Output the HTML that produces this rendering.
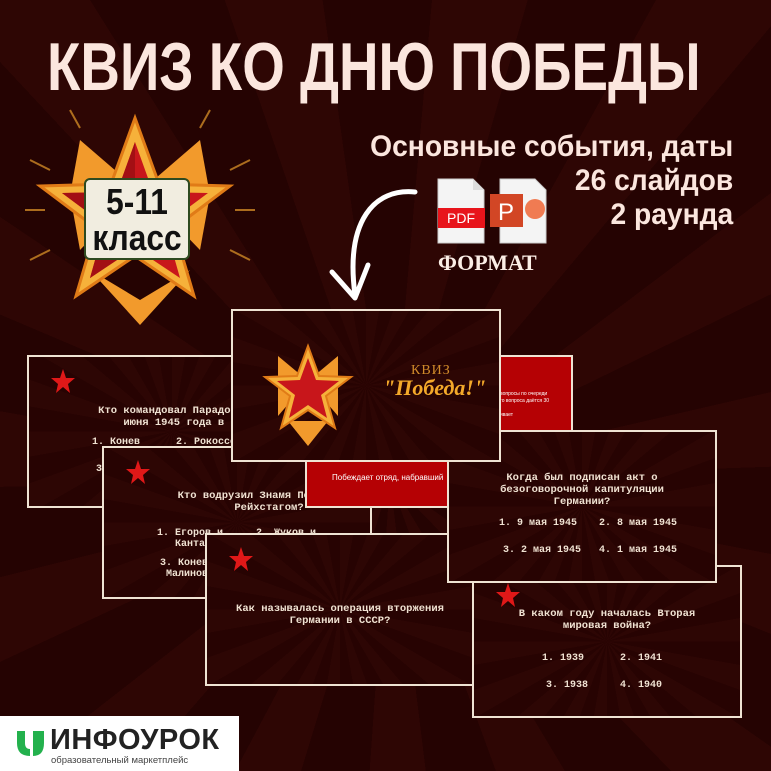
<!DOCTYPE html>
<html><head><meta charset="utf-8"><style>
*{margin:0;padding:0;box-sizing:border-box}
body{width:771px;height:771px;overflow:hidden;position:relative;background:#260302;font-family:"Liberation Sans",sans-serif}
.bg{position:absolute;inset:0;background:repeating-conic-gradient(from 5deg at 390px 480px,#2e0604 0deg 11deg,#250302 11deg 24deg)}
.t{position:absolute;font-family:"Liberation Sans Narrow","Liberation Sans",sans-serif;font-weight:bold;color:#fbe6de;white-space:nowrap}
.slide{position:absolute;width:270px;height:153px;background:repeating-conic-gradient(from 0deg at 50% 50%,#2d0604 0deg 10deg,#270302 10deg 20deg);border:2px solid #efe3d3;overflow:hidden}
.q{position:absolute;left:0;right:0;text-align:center;font-family:"Liberation Mono",monospace;font-weight:bold;font-size:10.5px;line-height:12px;color:#f0e2d2}
.a{position:absolute;font-family:"Liberation Mono",monospace;font-weight:bold;font-size:10px;color:#f0e2d2;white-space:nowrap}
.bd{position:absolute;width:28px;height:28px}
</style></head><body>
<div class="bg"></div>
<div class="t" style="left:47px;top:30px;font-size:68px;line-height:75px;transform-origin:left top;transform:scaleX(0.805)">КВИЗ КО ДНЮ ПОБЕДЫ</div>
<div class="t" style="right:38px;top:130px;font-size:30px;line-height:34px;text-align:right;transform-origin:right top;transform:scaleX(0.94)">Основные события, даты<br>26 слайдов<br>2 раунда</div>

<!-- big star -->
<svg style="position:absolute;left:20px;top:100px" width="240" height="230" viewBox="0 0 240 230">
<g stroke="#e59a2a" stroke-width="2" opacity=".7">
<line x1="10" y1="60" x2="30" y2="70"/><line x1="5" y1="110" x2="25" y2="110"/><line x1="10" y1="160" x2="30" y2="150"/>
<line x1="230" y1="60" x2="210" y2="70"/><line x1="235" y1="110" x2="215" y2="110"/><line x1="230" y1="160" x2="210" y2="150"/>
<line x1="50" y1="10" x2="60" y2="28"/><line x1="190" y1="10" x2="180" y2="28"/></g>
<g fill="#f29a2c"><polygon points="60,40 118,90 60,150 50,95"/><polygon points="180,40 122,90 180,150 190,95"/><polygon points="70,170 120,200 170,170 120,225"/></g>
<polygon points="115,18 139,84 210,86 154,128 174,196 115,156 56,196 76,128 20,86 91,84" fill="#f6b13a" stroke="#e07b17" stroke-width="3"/>
<polygon points="115,42 133,92 188,93 145,125 160,178 115,148 70,178 85,125 42,93 97,92" fill="#c8161b"/>
<polygon points="115,42 115,148 70,178 85,125 42,93 97,92" fill="#a30f14"/>
</svg>
<div style="position:absolute;left:84px;top:178px;width:106px;height:82px;background:#f1ede0;border:2px solid #2e4a20;border-radius:6px;text-align:center;overflow:hidden">
<div style="font-family:'Liberation Sans Narrow','Liberation Sans',sans-serif;font-weight:bold;color:#111;font-size:36px;line-height:36px;padding-top:4px;transform:scaleX(0.88)">5-11<br>класс</div></div>

<!-- icons -->
<svg style="position:absolute;left:437px;top:178px" width="115" height="68">
<path d="M1,1 H36 L47,12 V65 H1 Z" fill="#f4f4f4" stroke="#ccc"/><path d="M36,1 V12 H47" fill="#ddd"/>
<rect x="1" y="30" width="47" height="20" fill="#e8141b"/><text x="24" y="45" font-family="Liberation Sans" font-size="14" fill="#fff" text-anchor="middle">PDF</text>
<path d="M63,1 H98 L109,12 V65 H63 Z" fill="#f4f4f4" stroke="#ccc"/>
<rect x="53" y="16" width="33" height="33" fill="#d24625"/><text x="69" y="42" font-family="Liberation Sans" font-size="24" fill="#fff" text-anchor="middle">P</text>
<circle cx="98" cy="31" r="10" fill="#f07b52"/>
</svg>
<div style="position:absolute;left:438px;top:250px;font-family:'Liberation Serif',serif;font-weight:bold;font-size:22px;color:#fbeee6">ФОРМАТ</div>
<svg style="position:absolute;left:320px;top:180px" width="120" height="130"><path d="M95,12 C55,8 25,40 35,115" fill="none" stroke="#fff" stroke-width="5" stroke-linecap="round"/><path d="M12,92 L35,118 L48,85" fill="none" stroke="#fff" stroke-width="5" stroke-linecap="round" stroke-linejoin="round"/></svg>

<!-- slides -->
<div class="slide" style="left:27px;top:355px;width:290px">
<svg class="bd" style="left:20px;top:10px" viewBox="0 0 28 28"><polygon points="14,2 17,11 26,11 19,17 21,26 14,20 7,26 9,17 2,11 11,11" fill="#e01818"/></svg>
<div class="q" style="top:48px;left:0;width:340px">Кто командовал Парадом Победы 24<br>июня 1945 года в Москве?</div>
<div class="a" style="left:63px;top:80px">1. Конев&nbsp;&nbsp;&nbsp;&nbsp;&nbsp;&nbsp;2. Рокоссовский</div>
<div class="a" style="left:67px;top:107px">3.</div>
</div>
<div class="slide" style="left:102px;top:446px">
<svg class="bd" style="left:20px;top:10px" viewBox="0 0 28 28"><polygon points="14,2 17,11 26,11 19,17 21,26 14,20 7,26 9,17 2,11 11,11" fill="#e01818"/></svg>
<div class="q" style="top:42px;width:330px;left:0">Кто водрузил Знамя Победы над<br>Рейхстагом?</div>
<div class="a" style="left:53px;top:80px;line-height:11px">1. Егоров и<br>&nbsp;&nbsp;&nbsp;Кантария</div>
<div class="a" style="left:152px;top:80px">2. Жуков и</div>
<div class="a" style="left:56px;top:110px;line-height:11px">3. Конев<br>&nbsp;Малиновский</div>
</div>
<div style="position:absolute;left:305px;top:355px;width:268px;height:153px;background:#b50104;border:2px solid #efe3d3;overflow:hidden">
<div style="position:absolute;left:25px;top:116px;font-size:8px;color:#fff;white-space:nowrap">Побеждает отряд, набравший</div>
<div style="position:absolute;left:193px;top:34px;font-size:5px;color:#fff;line-height:7px;white-space:nowrap">вопросы по очереди<br>го вопроса даётся 30<br><br>ивает</div>
</div>
<div class="slide" style="left:205px;top:533px">
<svg class="bd" style="left:20px;top:10px" viewBox="0 0 28 28"><polygon points="14,2 17,11 26,11 19,17 21,26 14,20 7,26 9,17 2,11 11,11" fill="#e01818"/></svg>
<div class="q" style="top:68px">Как называлась операция вторжения<br>Германии в СССР?</div>
</div>
<div class="slide" style="left:472px;top:565px">
<svg class="bd" style="left:20px;top:14px" viewBox="0 0 28 28"><polygon points="14,2 17,11 26,11 19,17 21,26 14,20 7,26 9,17 2,11 11,11" fill="#e01818"/></svg>
<div class="q" style="top:41px">В каком году началась Вторая<br>мировая война?</div>
<div class="a" style="left:68px;top:86px">1. 1939</div><div class="a" style="left:146px;top:86px">2. 1941</div>
<div class="a" style="left:72px;top:113px">3. 1938</div><div class="a" style="left:146px;top:113px">4. 1940</div>
</div>
<div class="slide" style="left:447px;top:430px">
<div class="q" style="top:40px">Когда был подписан акт о<br>безоговорочной капитуляции<br>Германии?</div>
<div class="a" style="left:50px;top:86px">1. 9 мая 1945</div><div class="a" style="left:150px;top:86px">2. 8 мая 1945</div>
<div class="a" style="left:54px;top:113px">3. 2 мая 1945</div><div class="a" style="left:150px;top:113px">4. 1 мая 1945</div>
</div>
<div class="slide" style="left:231px;top:309px;width:270px;height:153px">
<svg style="position:absolute;left:20px;top:15px" width="110" height="120" viewBox="0 0 110 120">
<g fill="#f29a2c"><polygon points="25,30 55,55 25,90"/><polygon points="85,30 55,55 85,90"/><polygon points="35,95 55,120 75,95"/></g>
<polygon points="55,20 66,50 98,51 73,70 82,102 55,84 28,102 37,70 12,51 44,50" fill="#f6b13a" stroke="#e07b17" stroke-width="2"/>
<polygon points="55,32 63,54 86,55 68,69 74,92 55,79 36,92 42,69 24,55 47,54" fill="#c8161b"/>
</svg>
<div style="position:absolute;left:178px;top:52px;font-family:'Liberation Serif',serif;font-size:14px;color:#d08a2a;letter-spacing:1px">КВИЗ</div>
<div style="position:absolute;left:150px;top:64px;font-family:'Liberation Serif',serif;font-style:italic;font-weight:bold;font-size:22px;color:#f4a92a">"Победа!"</div>
</div>

<!-- logo -->
<div style="position:absolute;left:0;top:716px;width:239px;height:55px;background:#fff"></div>
<svg style="position:absolute;left:16px;top:729px" width="30" height="28"><path d="M1,2 H9 V14 Q9,20 14,20 V27 Q1,27 1,14Z" fill="#23b14d"/><path d="M28,2 H17 V27 Q28,27 28,14Z" fill="#23b14d"/></svg>
<div style="position:absolute;left:50px;top:725px;font-size:29px;font-weight:bold;color:#222;line-height:30px;letter-spacing:0.5px">ИНФОУРОК</div>
<div style="position:absolute;left:51px;top:755px;font-size:9.5px;color:#444;white-space:nowrap">образовательный маркетплейс</div>
</body></html>
